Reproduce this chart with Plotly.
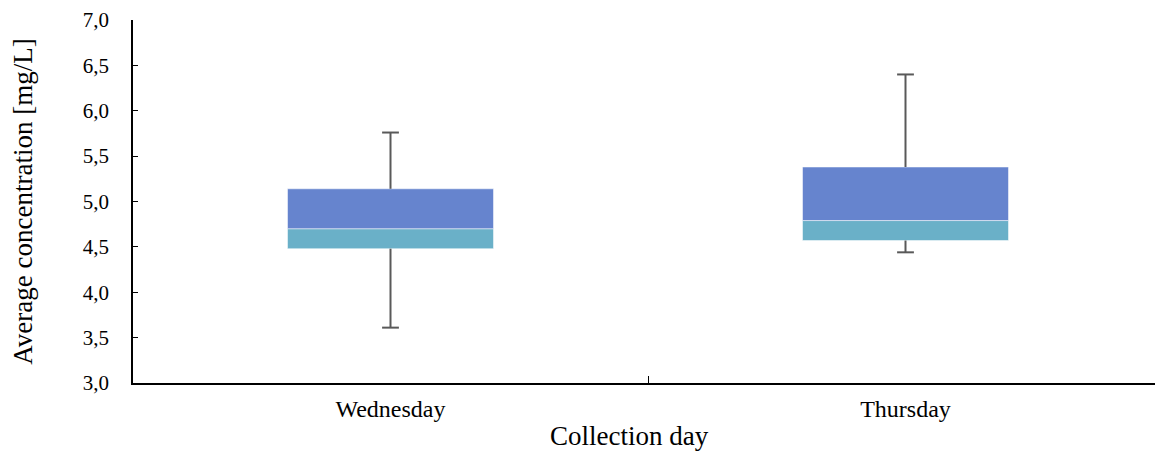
import plotly.graph_objects as go

days = ["Wednesday", "Thursday"]
minimum = [3.61, 4.44]
q1 = [4.48, 4.57]
median = [4.70, 4.79]
q3 = [5.14, 5.38]
maximum = [5.76, 6.40]

FONT = "Liberation Serif, Times New Roman, serif"
WHISKER = "#595959"

fig = go.Figure()

# lower box part (Q1 -> median)
fig.add_trace(go.Bar(
    x=days, y=[m - a for m, a in zip(median, q1)], base=q1,
    marker=dict(color="#6AB0C8", line=dict(color="rgba(255,255,255,0.5)", width=1)),
    width=0.4, showlegend=False, hoverinfo="skip"))
# upper box part (median -> Q3)
fig.add_trace(go.Bar(
    x=days, y=[b - m for b, m in zip(q3, median)], base=median,
    marker=dict(color="#6684CE", line=dict(color="rgba(255,255,255,0.5)", width=1)),
    width=0.4, showlegend=False, hoverinfo="skip"))

# whiskers
for i, d in enumerate(days):
    fig.add_trace(go.Scatter(
        x=[d, d], y=[q3[i], maximum[i]], mode="lines",
        line=dict(color=WHISKER, width=2), showlegend=False, hoverinfo="skip"))
    fig.add_trace(go.Scatter(
        x=[d, d], y=[minimum[i], q1[i]], mode="lines",
        line=dict(color=WHISKER, width=2), showlegend=False, hoverinfo="skip"))
    fig.add_trace(go.Scatter(
        x=[d, d], y=[minimum[i], maximum[i]], mode="markers",
        marker=dict(symbol="line-ew", size=12, line=dict(color=WHISKER, width=2)),
        showlegend=False, hoverinfo="skip"))

fig.update_layout(
    width=1155, height=444,
    margin=dict(l=125, r=0, t=12, b=69),
    paper_bgcolor="white", plot_bgcolor="white",
    barmode="overlay",
    separators=",.",
    font=dict(family=FONT, color="black"),
    xaxis=dict(
        type="category", range=[-0.5, 1.5], automargin=False,
        showline=True, linecolor="black", linewidth=1.5,
        ticks="inside", tickson="boundaries", ticklen=7, tickcolor="black", tickwidth=1,
        showgrid=False, tickfont=dict(size=24, family=FONT), ticklabelstandoff=3,
    ),
    yaxis=dict(
        range=[3, 7], dtick=0.5, tickformat=".1f", automargin=False,
        showline=True, linecolor="black", linewidth=1.5,
        ticks="inside", ticklen=5, tickcolor="black", tickwidth=1,
        showgrid=False, zeroline=False, tickfont=dict(size=21, family=FONT),
        ticklabelstandoff=18,
        title=dict(text="Average concentration [mg/L]", font=dict(size=27, family=FONT), standoff=45),
    ),
    annotations=[dict(
        text="Collection day", xref="paper", yref="paper",
        x=0.4825, y=-0.098, xanchor="center", yanchor="top", showarrow=False,
        font=dict(size=27, family=FONT, color="black"))],
)

fig.write_html("out.html")
